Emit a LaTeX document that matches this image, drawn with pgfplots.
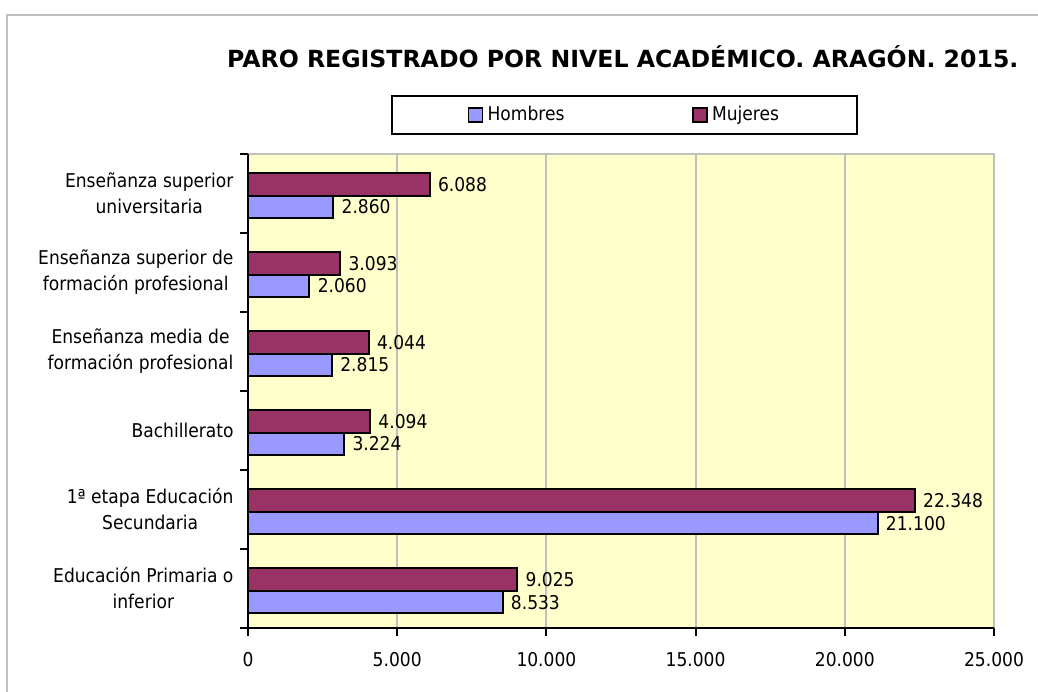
\documentclass[border=0pt]{standalone}
\usepackage{pgfplots}
\pgfplotsset{compat=1.18}
\usepackage{fontspec}
\setmainfont{DejaVu Sans Condensed}
\newfontfamily\titlefont{DejaVu Sans}
\definecolor{hombres}{HTML}{9999FF}
\definecolor{mujeres}{HTML}{993366}
\definecolor{plotbg}{HTML}{FFFFCC}
\definecolor{gridgray}{HTML}{C0C0C0}

\begin{document}
\fontsize{19}{23}\selectfont
\begin{tikzpicture}[x=1pt,y=1pt]
\path[use as bounding box] (0,0) rectangle (1038,-691);
\clip (0,0) rectangle (1038,-691);
\fill[white] (0,0) rectangle (1038,-691);
\draw[gridgray, line width=2.5pt] (7,-800) -- (7,-15) -- (1100,-15);
\node[anchor=base west, font=\fontsize{23.6}{30}\titlefont\bfseries, inner sep=0pt]
  at (227,-67) {PARO REGISTRADO POR NIVEL ACADÉMICO. ARAGÓN. 2015.};

\begin{axis}[
  at={(248pt,-628pt)}, anchor=south west,
  width=746pt, height=474.5pt, scale only axis,
  xbar, bar width=22.5pt,
  xmin=0, xmax=25000,
  ymin=-0.5, ymax=5.5,
  axis lines*=left,
  axis line style={-, black, line width=2pt},
  axis background/.style={fill=plotbg, draw=gridgray, line width=2pt},
  xtick={0,5000,10000,15000,20000,25000},
  scaled x ticks=false,
  xmajorgrids, major grid style={gridgray, line width=2pt},
  tick align=outside, major tick length=8pt,
  major x tick style={black, line width=2pt},
  ytick={0,1,2,3,4,5},
  major y tick style={draw=none},
  minor ytick={-0.5,0.5,1.5,2.5,3.5,4.5,5.5},
  minor tick length=8pt,
  minor y tick style={black, line width=2pt},
  yticklabels={{Educación Primaria o\\inferior},
               {1ª etapa Educación\\Secundaria},
               {Bachillerato},
               {Enseñanza media de\\formación profesional},
               {Enseñanza superior de\\formación profesional},
               {Enseñanza superior\\universitaria}},
  yticklabel style={align=center, font=\fontsize{19}{26}\selectfont},
  xticklabel style={font=\fontsize{19}{23}\selectfont, yshift=-10pt},
  /pgf/number format/.cd, fixed, precision=0, 1000 sep={.}, assume math mode=true,
  /pgfplots/.cd,
  nodes near coords,
  every node near coord/.append style={anchor=west, font=\fontsize{19}{23}\selectfont, xshift=1pt, black},
  legend columns=2,
  legend style={at={(0.5047,1.081)}, anchor=center, draw=black, /tikz/line width=2pt,
    font=\fontsize{19}{23}\selectfont, inner xsep=76pt, inner ysep=8.5pt,
    /tikz/every even column/.append style={column sep=126pt}},
  legend image code/.code={\draw[#1, line width=1.2pt] (0pt,-7pt) rectangle (14pt,7pt);
    \path (16pt,0pt);},
]
\addplot[fill=hombres, draw=black, line width=2pt, bar shift=-13.75pt] coordinates {
  (8533,0) (21100,1) (3224,2) (2815,3) (2060,4) (2860,5)
};
\addplot[fill=mujeres, draw=black, line width=2pt, bar shift=8.75pt] coordinates {
  (9025,0) (22348,1) (4094,2) (4044,3) (3093,4) (6088,5)
};
\legend{Hombres, Mujeres}
\end{axis}
\end{tikzpicture}
\end{document}
